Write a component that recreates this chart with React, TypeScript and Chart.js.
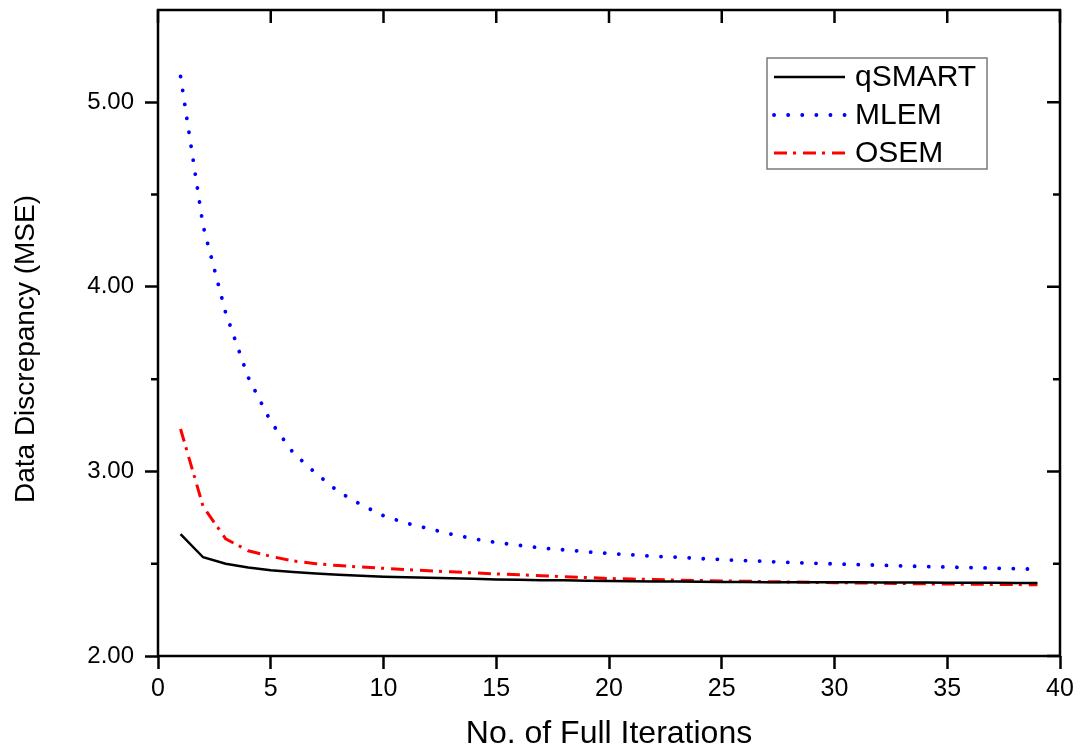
import React, { useEffect, useRef } from 'react';
import { Chart, registerables } from 'chart.js';

Chart.register(...registerables);

const iterations = [
  1, 2, 3, 4, 5, 6, 7, 8, 9, 10, 11, 12, 13, 14, 15, 16, 17, 18, 19, 20,
  21, 22, 23, 24, 25, 26, 27, 28, 29, 30, 31, 32, 33, 34, 35, 36, 37, 38, 39,
];

const qsmart = [
  2.66, 2.535, 2.5, 2.48, 2.465, 2.455, 2.447, 2.44, 2.435, 2.43,
  2.427, 2.424, 2.421, 2.418, 2.415, 2.413, 2.411, 2.41, 2.408, 2.406,
  2.405, 2.404, 2.403, 2.402, 2.401, 2.401, 2.4, 2.4, 2.399, 2.399,
  2.399, 2.398, 2.398, 2.398, 2.397, 2.397, 2.397, 2.396, 2.396,
];

const mlem = [
  5.14, 4.33, 3.86, 3.51, 3.27, 3.1, 2.99, 2.89, 2.82, 2.76,
  2.72, 2.69, 2.66, 2.635, 2.615, 2.6, 2.585, 2.575, 2.565, 2.555,
  2.548, 2.54, 2.535, 2.528, 2.522, 2.517, 2.512, 2.507, 2.503, 2.499,
  2.495, 2.492, 2.488, 2.485, 2.482, 2.479, 2.476, 2.473, 2.47,
];

const osem = [
  3.23, 2.81, 2.635, 2.57, 2.54, 2.515, 2.5, 2.49, 2.482, 2.475,
  2.468, 2.462, 2.456, 2.45, 2.445, 2.44, 2.435, 2.43, 2.425, 2.42,
  2.417, 2.414, 2.411, 2.409, 2.407, 2.405, 2.403, 2.401, 2.399, 2.397,
  2.396, 2.394, 2.393, 2.391, 2.39, 2.389, 2.388, 2.387, 2.386,
];

const seriesLabels = ['qSMART', 'MLEM', 'OSEM'];
const xTicks = [0, 5, 10, 15, 20, 25, 30, 35, 40];
const yTicks = [2, 3, 4, 5];
const yMinorTicks = [2.5, 3.5, 4.5];
const xTitle = 'No. of Full Iterations';
const yTitle = 'Data Discrepancy (MSE)';

const FONT = '"Liberation Sans", Arial, Helvetica, sans-serif';

const toPoints = (ys: number[]) => iterations.map((x, i) => ({ x, y: ys[i] }));

const framePlugin = {
  id: 'frameAndLegend',
  afterDatasetsDraw(chart: any) {
    const { ctx, chartArea } = chart;
    const { left, right, top, bottom } = chartArea;
    const xs = chart.scales.x;
    const ys = chart.scales.y;
    ctx.save();
    ctx.strokeStyle = '#000';
    ctx.lineWidth = 2.5;
    ctx.lineCap = 'butt';
    ctx.strokeRect(left, top, right - left, bottom - top);
    ctx.beginPath();
    xTicks.forEach((v) => {
      const px = xs.getPixelForValue(v);
      ctx.moveTo(px, top);
      ctx.lineTo(px, top + 13);
    });
    yTicks.forEach((v) => {
      const py = ys.getPixelForValue(v);
      ctx.moveTo(right, py);
      ctx.lineTo(right - 13, py);
    });
    yMinorTicks.forEach((v) => {
      const py = ys.getPixelForValue(v);
      ctx.moveTo(left, py);
      ctx.lineTo(left - 7, py);
      ctx.moveTo(right, py);
      ctx.lineTo(right - 7, py);
    });
    ctx.stroke();
    ctx.restore();
  },
  afterDraw(chart: any) {
    const { ctx, chartArea } = chart;
    // y-axis title
    ctx.save();
    ctx.translate(26, (chartArea.top + chartArea.bottom) / 2 + 16);
    ctx.rotate(-Math.PI / 2);
    ctx.fillStyle = '#000';
    ctx.font = `28px ${FONT}`;
    ctx.textAlign = 'center';
    ctx.textBaseline = 'middle';
    ctx.fillText(yTitle, 0, 0);
    ctx.restore();

    // legend
    const bx = 767;
    const by = 58;
    const bw = 220;
    const bh = 111;
    ctx.save();
    ctx.fillStyle = '#fff';
    ctx.fillRect(bx, by, bw, bh);
    ctx.strokeStyle = '#7a7a7a';
    ctx.lineWidth = 1.5;
    ctx.strokeRect(bx, by, bw, bh);
    chart.data.datasets.forEach((ds: any, i: number) => {
      const ry = by + 19 + i * 38;
      ctx.beginPath();
      ctx.strokeStyle = ds.borderColor;
      ctx.lineWidth = ds.borderWidth;
      ctx.lineCap = ds.borderCapStyle || 'butt';
      ctx.setLineDash(ds.borderDash || []);
      ctx.moveTo(774, ry);
      ctx.lineTo(845, ry);
      ctx.stroke();
      ctx.setLineDash([]);
      ctx.fillStyle = '#000';
      ctx.font = `30px ${FONT}`;
      ctx.textAlign = 'left';
      ctx.textBaseline = 'middle';
      ctx.fillText(ds.label, 855, ry + 1);
    });
    ctx.restore();
  },
};

export default function App() {
  const canvasRef = useRef<HTMLCanvasElement | null>(null);

  useEffect(() => {
    if (!canvasRef.current) return;
    const chart = new Chart(canvasRef.current, {
      type: 'line',
      data: {
        datasets: [
          {
            label: seriesLabels[0],
            data: toPoints(qsmart),
            borderColor: '#000000',
            borderWidth: 2.5,
            pointRadius: 0,
            tension: 0,
          },
          {
            label: seriesLabels[1],
            data: toPoints(mlem),
            borderColor: '#0000ff',
            borderWidth: 3.8,
            borderDash: [0.1, 14],
            borderCapStyle: 'round',
            pointRadius: 0,
            tension: 0,
          },
          {
            label: seriesLabels[2],
            data: toPoints(osem),
            borderColor: '#ff0000',
            borderWidth: 3,
            borderDash: [13, 6, 3, 7],
            pointRadius: 0,
            tension: 0,
          },
        ],
      },
      options: {
        animation: false,
        responsive: true,
        maintainAspectRatio: false,
        layout: { padding: { top: 10, right: 20, left: 0, bottom: 0 } },
        plugins: {
          legend: { display: false },
          tooltip: { enabled: false },
        },
        scales: {
          x: {
            type: 'linear',
            min: 0,
            max: 40,
            afterBuildTicks: (scale: any) => {
              scale.ticks = xTicks.map((v) => ({ value: v }));
            },
            afterFit: (scale: any) => {
              scale.height = 97;
              scale.paddingLeft = 0;
              scale.paddingRight = 0;
            },
            border: { display: false },
            grid: {
              display: true,
              drawOnChartArea: false,
              drawTicks: true,
              tickLength: 13,
              tickWidth: 2.5,
              tickColor: '#000',
            },
            ticks: {
              color: '#000',
              padding: 5,
              maxRotation: 0,
              font: { family: FONT, size: 25 },
              callback: (v: any) => String(v),
            },
            title: {
              display: true,
              text: xTitle,
              color: '#000',
              font: { family: FONT, size: 32 },
              padding: { top: 0, bottom: 0 },
            },
          },
          y: {
            type: 'linear',
            min: 2,
            max: 5.5,
            afterBuildTicks: (scale: any) => {
              scale.ticks = yTicks.map((v) => ({ value: v }));
            },
            afterFit: (scale: any) => {
              scale.width = 158;
              scale.paddingTop = 0;
              scale.paddingBottom = 0;
            },
            border: { display: false },
            grid: {
              display: true,
              drawOnChartArea: false,
              drawTicks: true,
              tickLength: 13,
              tickWidth: 2.5,
              tickColor: '#000',
            },
            ticks: {
              color: '#000',
              padding: 11,
              font: { family: FONT, size: 24 },
              callback: (v: any) => Number(v).toFixed(2),
            },
            title: { display: false },
          },
        },
      },
      plugins: [framePlugin],
    });
    return () => chart.destroy();
  }, []);

  return (
    <div style={{ position: 'fixed', left: 0, top: 0, width: 1080, height: 753, background: '#fff' }}>
      <canvas ref={canvasRef} />
    </div>
  );
}
